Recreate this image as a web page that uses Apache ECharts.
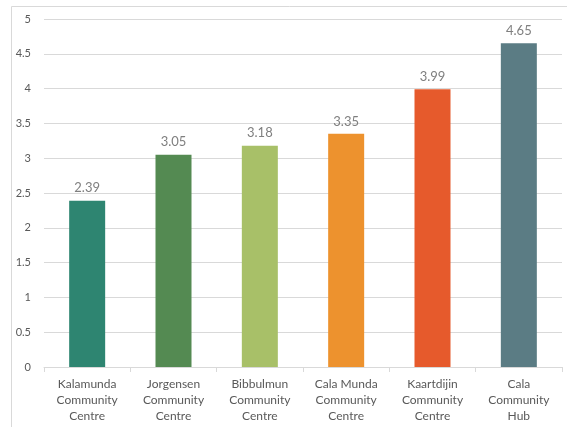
<!DOCTYPE html>
<html><head><meta charset="utf-8">
<script src="https://cdn.jsdelivr.net/npm/echarts@6/dist/echarts.min.js"></script>
<style>html,body{margin:0;padding:0;background:#fff}#c{width:567px;height:427px}</style>
</head><body><div id="c"></div>
<script>
const categories = ["Kalamunda\nCommunity\nCentre","Jorgensen\nCommunity\nCentre","Bibbulmun\nCommunity\nCentre","Cala Munda\nCommunity\nCentre","Kaartdijin\nCommunity\nCentre","Cala\nCommunity\nHub"];
const values = [2.39, 3.05, 3.18, 3.35, 3.99, 4.65];
const colors = ["#2e8571","#548a52","#a8c068","#ed922e","#e65a2c","#5b7c84"];
const yTicks = {min:0, max:5, interval:0.5};
const chart = echarts.init(document.getElementById('c'), null, {renderer:'canvas'});
chart.setOption({
  animation:false,
  textStyle:{fontFamily:'Lato'},
  graphic:[{type:'rect', shape:{x:11.5,y:6.5,width:600,height:500}, style:{fill:'none',stroke:'#d9d9d9',lineWidth:1}, silent:true, z:-1}],
  grid:{left:44,right:5,top:19,bottom:60,containLabel:false},
  xAxis:{type:'category',data:categories,
    axisLine:{lineStyle:{color:'#d9d9d9'}},
    axisTick:{show:true,length:5,lineStyle:{color:'#d9d9d9'}},
    axisLabel:{color:'#595959',fontSize:12,lineHeight:16,margin:9,interval:0}},
  yAxis:{type:'value',min:yTicks.min,max:yTicks.max,interval:yTicks.interval,
    axisLine:{show:false},axisTick:{show:false},
    splitLine:{lineStyle:{color:'#d9d9d9'}},
    axisLabel:{color:'#595959',fontSize:11,margin:13,formatter:v=>String(v)}},
  series:[{type:'bar',barWidth:36,
    data:values.map((v,i)=>({value:v,itemStyle:{color:colors[i]}})),
    label:{show:true,position:'top',color:'#7f7f7f',fontSize:13,distance:6,formatter:p=>p.value.toFixed(2)}}]
});
</script></body></html>
